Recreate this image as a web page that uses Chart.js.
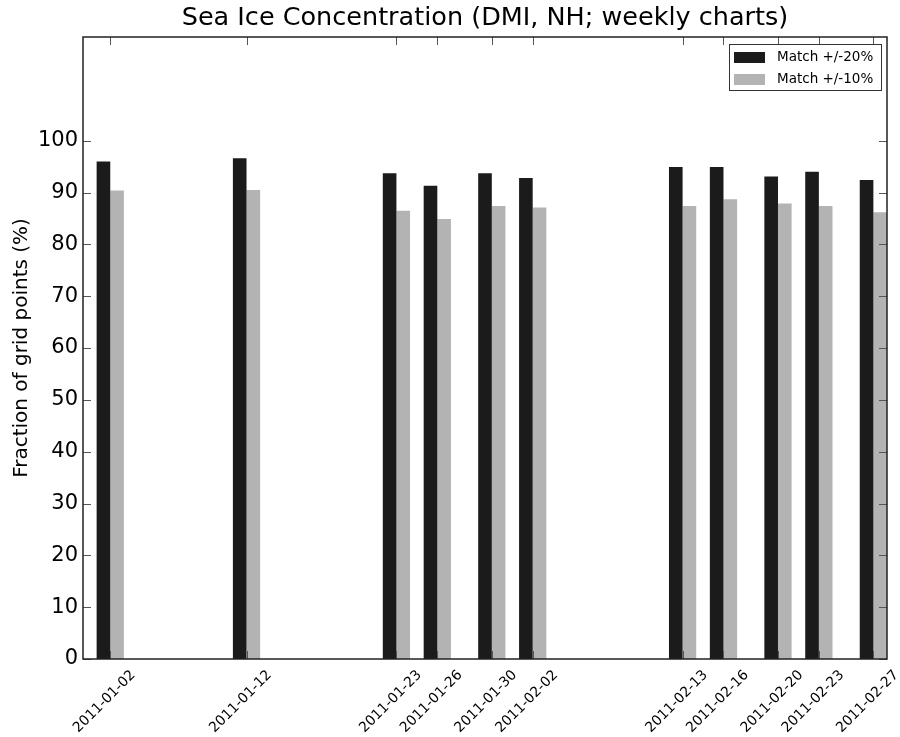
<!DOCTYPE html>
<html lang="en">
<head>
  <meta charset="UTF-8" />
  <title>Sea Ice Concentration</title>
  <style>
    body { margin: 0; background: #fff; }
    #wrap { width: 900px; height: 737px; }
  </style>
</head>
<body>
  <div id="wrap"><canvas id="chart" width="900" height="737"></canvas></div>
  <script src="https://cdn.jsdelivr.net/npm/chart.js"></script>
  <script>
    // dates of the weekly charts
    const dates = ['2011-01-02', '2011-01-12', '2011-01-23', '2011-01-26', '2011-01-30', '2011-02-02',
                   '2011-02-13', '2011-02-16', '2011-02-20', '2011-02-23', '2011-02-27'];
    const match20 = [96.0, 96.6, 93.7, 91.3, 93.7, 92.8, 94.9, 94.9, 93.1, 94.0, 92.4];
    const match10 = [90.4, 90.5, 86.5, 84.9, 87.4, 87.1, 87.4, 88.7, 87.9, 87.4, 86.2];
    const yTicks = [0, 10, 20, 30, 40, 50, 60, 70, 80, 90, 100];

    // day number counted from 2011-01-01
    const dayOf = s => (Date.parse(s + 'T00:00:00Z') - Date.UTC(2011, 0, 1)) / 86400000;
    const days = dates.map(dayOf);

    Chart.defaults.font.family = "'DejaVu Sans', sans-serif";
    Chart.defaults.color = '#000';

    const titulo = {
      id: 'titulo',
      afterDraw(chart) {
        const { ctx, chartArea } = chart;
        ctx.save();
        ctx.font = "25.5px 'DejaVu Sans'";
        ctx.fillStyle = '#000';
        ctx.textAlign = 'center';
        ctx.textBaseline = 'middle';
        ctx.fillText('Sea Ice Concentration (DMI, NH; weekly charts)', (chartArea.left + chartArea.right) / 2, 18);
        ctx.restore();
      }
    };

    // frame round the plot and inward ticks on all four sides
    const marco = {
      id: 'marco',
      afterDatasetsDraw(chart) {
        const { ctx, chartArea: a, scales } = chart;
        ctx.save();
        ctx.strokeStyle = '#555';
        ctx.lineWidth = 1;
        ctx.beginPath();
        scales.x.ticks.forEach((t, i) => {
          const x = Math.round(scales.x.getPixelForTick(i)) + 0.5;
          ctx.moveTo(x, a.top); ctx.lineTo(x, a.top + 8);
          ctx.moveTo(x, a.bottom); ctx.lineTo(x, a.bottom - 8);
        });
        scales.y.ticks.forEach((t, i) => {
          const y = Math.round(scales.y.getPixelForTick(i)) + 0.5;
          ctx.moveTo(a.left, y); ctx.lineTo(a.left + 8, y);
          ctx.moveTo(a.right, y); ctx.lineTo(a.right - 8, y);
        });
        ctx.stroke();
        ctx.strokeStyle = '#222';
        ctx.lineWidth = 1.5;
        ctx.strokeRect(a.left, a.top, a.right - a.left, a.bottom - a.top);
        ctx.restore();
      }
    };

    const leyenda = {
      id: 'leyenda',
      afterDraw(chart) {
        const { ctx, chartArea: a } = chart;
        const w = 152, h = 46;
        const x0 = a.right - 6 - w, y0 = a.top + 7;
        ctx.save();
        ctx.fillStyle = '#fff';
        ctx.fillRect(x0, y0, w, h);
        ctx.strokeStyle = '#333';
        ctx.lineWidth = 1;
        ctx.strokeRect(x0 + 0.5, y0 + 0.5, w, h);
        ctx.font = "13.5px 'DejaVu Sans'";
        ctx.textBaseline = 'middle';
        chart.data.datasets.forEach((ds, i) => {
          const yy = y0 + 13 + i * 22;
          ctx.fillStyle = ds.backgroundColor;
          ctx.fillRect(x0 + 5, yy - 5, 31, 11);
          ctx.fillStyle = '#000';
          ctx.fillText(ds.label, x0 + 48, yy);
        });
        ctx.restore();
      }
    };

    new Chart(document.getElementById('chart'), {
      type: 'bar',
      data: {
        datasets: [{
          label: 'Match +/-20%',
          data: days.map((d, i) => ({ x: d, y: match20[i] })),
          backgroundColor: '#1b1b1b'
        }, {
          label: 'Match +/-10%',
          data: days.map((d, i) => ({ x: d, y: match10[i] })),
          backgroundColor: '#b3b3b3'
        }]
      },
      options: {
        responsive: false,
        animation: false,
        layout: { padding: { top: 37, right: 13, left: 0, bottom: 0 } },
        categoryPercentage: 2 / 3,
        barPercentage: 1,
        plugins: {
          legend: { display: false },
          tooltip: { enabled: false }
        },
        scales: {
          x: {
            type: 'linear',
            offset: false,
            min: -1,
            max: 58,
            grid: { display: false },
            border: { display: false },
            afterBuildTicks: s => { s.ticks = days.map(v => ({ value: v })); },
            afterFit: s => { s.height = 78; },
            ticks: {
              autoSkip: false,
              minRotation: 45,
              maxRotation: 45,
              labelOffset: 23,
              padding: 0,
              font: { size: 14 },
              callback: v => dates[days.indexOf(v)]
            }
          },
          y: {
            min: 0,
            max: 120,
            grid: { display: false },
            border: { display: false },
            afterBuildTicks: s => { s.ticks = yTicks.map(v => ({ value: v })); },
            afterFit: s => { s.width = 83; },
            ticks: { padding: -3, font: { size: 21 } },
            title: {
              display: true,
              text: 'Fraction of grid points (%)',
              font: { size: 20 },
              padding: { top: 10, bottom: 0 }
            }
          }
        }
      },
      plugins: [titulo, marco, leyenda]
    });
  </script>
</body>
</html>
